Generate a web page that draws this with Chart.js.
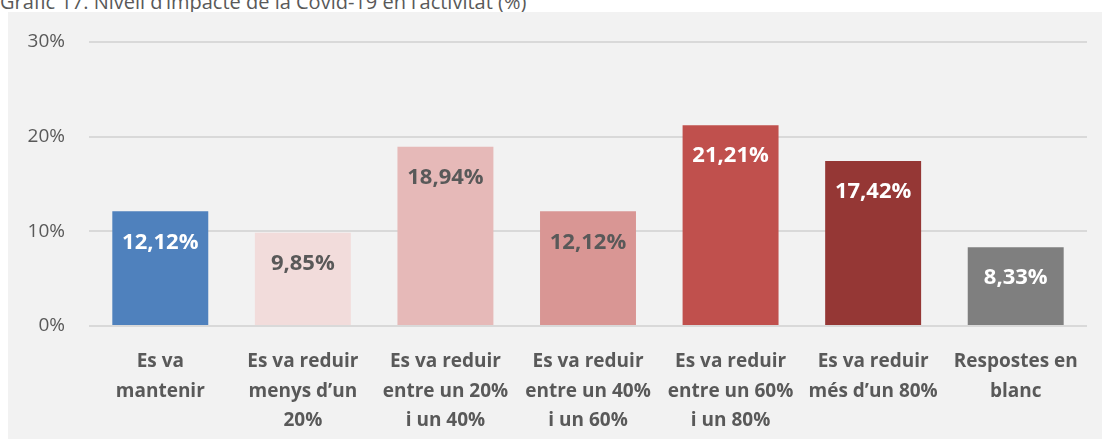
<!DOCTYPE html>
<html>
<head>
<meta charset="utf-8">
<script src="https://cdn.jsdelivr.net/npm/chart.js@4"></script>
<style>
  body { margin: 0; background: #fff; width: 1102px; height: 439px; overflow: hidden; position: relative; }
  #title { position: absolute; left: 0; top: -12px; font: 20px "Open Sans", sans-serif; color: #595959; white-space: nowrap; }
  #box { position: absolute; left: 8px; top: 12px; width: 1094px; height: 427px; background: #f2f2f2; }
  #chart { display: block; }
</style>
</head>
<body>
<div id="title">Gràfic 17. Nivell d’impacte de la Covid-19 en l’activitat (%)</div>
<div id="box"><canvas id="chart" width="1094" height="427"></canvas></div>
<script>
const categories = [
  ['Es va', 'mantenir'],
  ['Es va reduir', 'menys d’un', '20%'],
  ['Es va reduir', 'entre un 20%', 'i un 40%'],
  ['Es va reduir', 'entre un 40%', 'i un 60%'],
  ['Es va reduir', 'entre un 60%', 'i un 80%'],
  ['Es va reduir', 'més d’un 80%'],
  ['Respostes en', 'blanc']
];
const values = [12.12, 9.85, 18.94, 12.12, 21.21, 17.42, 8.33];
const barColors = ['#4f81bd', '#f2dcdb', '#e6b9b8', '#d99694', '#c0504d', '#953735', '#7f7f7f'];
const labelColors = ['#ffffff', '#595959', '#595959', '#595959', '#ffffff', '#ffffff', '#ffffff'];
const yTicks = [0, 10, 20, 30];

// draw the value labels inside the top of each bar
const valueLabels = {
  id: 'valueLabels',
  afterDatasetsDraw(chart) {
    const ctx = chart.ctx;
    const meta = chart.getDatasetMeta(0);
    ctx.save();
    ctx.font = 'bold 22px "Open Sans", sans-serif';
    ctx.textAlign = 'center';
    ctx.textBaseline = 'middle';
    meta.data.forEach((bar, i) => {
      ctx.fillStyle = labelColors[i];
      ctx.fillText(values[i].toFixed(2).replace('.', ',') + '%', bar.x, bar.y + 31);
    });
    ctx.restore();
  }
};

const ctx = document.getElementById('chart').getContext('2d');
new Chart(ctx, {
  type: 'bar',
  data: {
    labels: categories,
    datasets: [{
      data: values,
      backgroundColor: barColors,
      borderWidth: 0,
      categoryPercentage: 1,
      barPercentage: 0.673
    }]
  },
  options: {
    responsive: false,
    animation: false,
    maintainAspectRatio: false,
    layout: { padding: { top: 30, right: 15, left: 0, bottom: 0 } },
    plugins: {
      legend: { display: false },
      tooltip: { enabled: false }
    },
    scales: {
      x: {
        grid: { display: false },
        border: { display: false },
        ticks: {
          color: '#595959',
          font: { family: 'Open Sans', size: 19, weight: 'bold', lineHeight: 1.55 },
          padding: 13,
          maxRotation: 0,
          autoSkip: false
        },
        afterFit(scale) { scale.height = 113; }
      },
      y: {
        min: 0,
        max: 30,
        afterBuildTicks(scale) { scale.ticks = yTicks.map(v => ({ value: v })); },
        grid: { color: '#d9d9d9', lineWidth: 2, drawTicks: false },
        border: { display: false },
        ticks: {
          color: '#595959',
          font: { family: 'Open Sans', size: 19 },
          padding: 24,
          callback: v => v + '%'
        },
        afterFit(scale) {
          scale.width = 81;
          // tick padding would otherwise push the plot top down
          scale.paddingTop = 0;
          scale.paddingBottom = 0;
        }
      }
    }
  },
  plugins: [valueLabels]
});
</script>
</body>
</html>
